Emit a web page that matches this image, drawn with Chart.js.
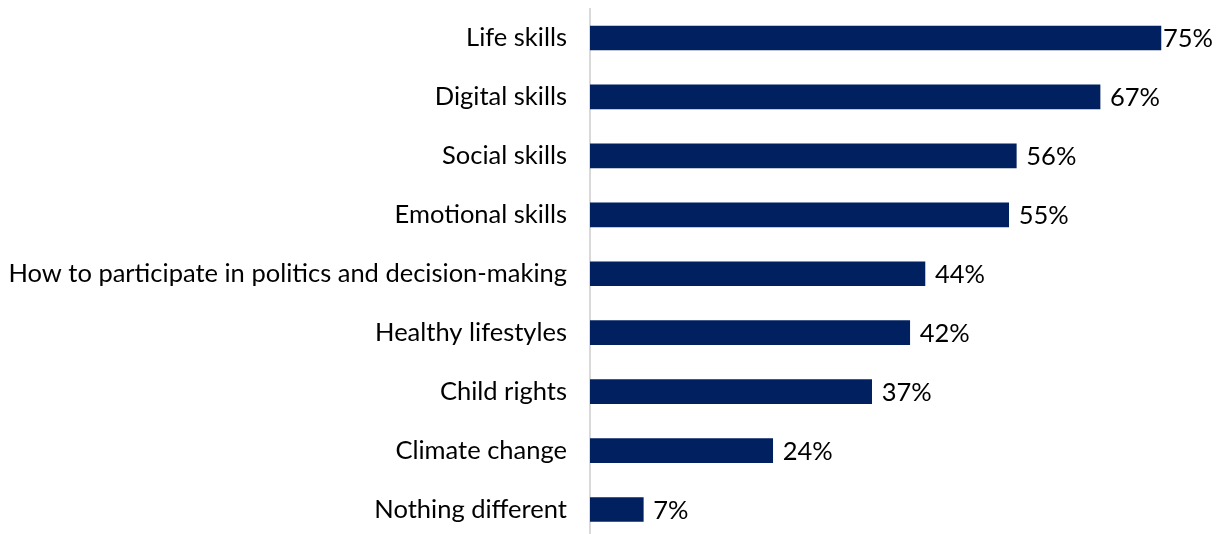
<!DOCTYPE html>
<html><head><meta charset="utf-8">
<script src="https://cdn.jsdelivr.net/npm/chart.js@4/dist/chart.umd.min.js"></script>
<style>
html,body{margin:0;padding:0;background:#fff;overflow:hidden;}
#wrap{position:relative;width:1223px;height:539px;}
</style></head>
<body><div id="wrap"><canvas id="c"></canvas></div>
<script>
const categories = ["Life skills","Digital skills","Social skills","Emotional skills","How to participate in politics and decision-making","Healthy lifestyles","Child rights","Climate change","Nothing different"];
const values = [75,67,56,55,44,42,37,24,7];
const valueLabels = ["75%","67%","56%","55%","44%","42%","37%","24%","7%"];

const labelPlugin = {
  id:'valLabels',
  afterDatasetsDraw(chart){
    const ctx = chart.ctx;
    const meta = chart.getDatasetMeta(0);
    ctx.save();
    ctx.font = '25.5px Lato';
    ctx.fillStyle = '#000000';
    ctx.textBaseline = 'middle';
    ctx.textAlign = 'left';
    meta.data.forEach((bar,i)=>{
      const gap = i===0 ? 2 : 10;
      ctx.fillText(valueLabels[i], bar.x + gap, bar.y + 1);
    });
    ctx.restore();
  }
};

new Chart(document.getElementById('c'),{
  type:'bar',
  data:{labels:categories,datasets:[{data:values,backgroundColor:'#002060',barThickness:24}]},
  options:{
    indexAxis:'y',
    responsive:true,maintainAspectRatio:false,animation:false,
    layout:{padding:{top:8.5,right:24,bottom:0,left:0}},
    plugins:{legend:{display:false},tooltip:{enabled:false}},
    scales:{
      x:{display:false,min:0,max:80},
      y:{
        afterFit(s){s.width=590;s.paddingTop=0;s.paddingBottom=0;},
        grid:{display:false,drawTicks:false},
        border:{display:true,color:'#d9d9d9',width:2},
        ticks:{color:'#000000',font:{family:'Lato',size:25.5},padding:23}
      }
    }
  },
  plugins:[labelPlugin]
});
</script></body></html>
